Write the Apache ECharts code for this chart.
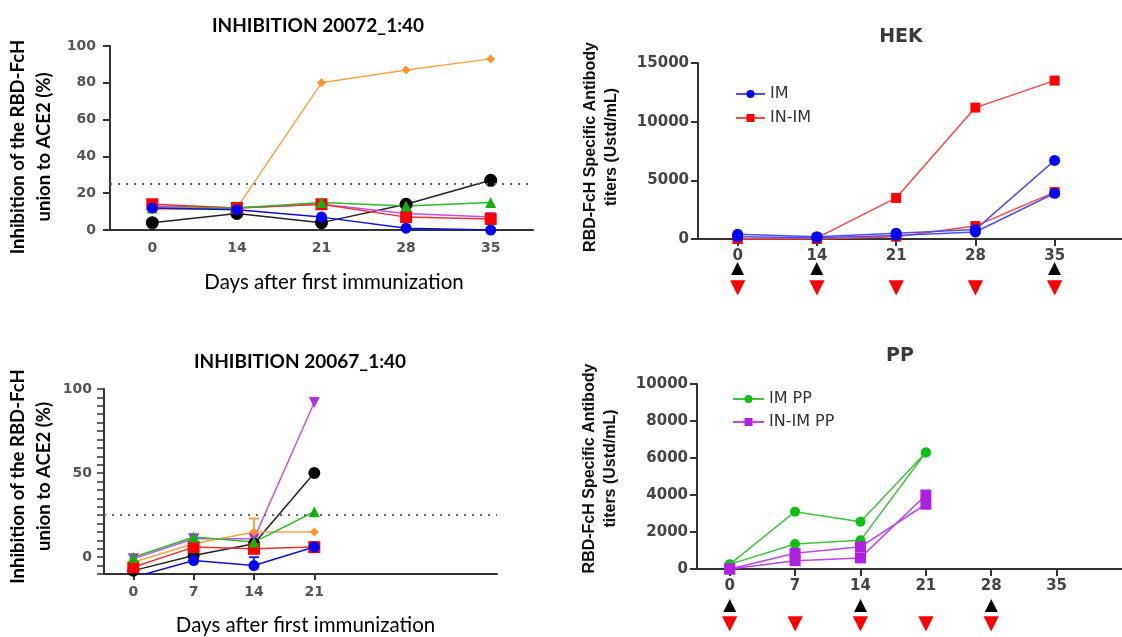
<!DOCTYPE html>
<html><head><meta charset="utf-8">
<script src="https://cdn.jsdelivr.net/npm/echarts@6/dist/echarts.min.js"></script>
<style>html,body{margin:0;padding:0;background:#fff}#c{width:1122px;height:637px}</style>
</head><body><div id="c"></div>
<script>
// ---------- Panel A: INHIBITION 20072_1:40 ----------
const daysA = ['0', '14', '21', '28', '35'];
const inhA_orange = [11, 12, 80, 87, 93];
const inhA_black  = [4, 9, 4, 14, 27];
const inhA_purple = [13, 12, 14, 9, 7];
const inhA_red    = [14, 12, 14, 7, 6];
const inhA_green  = [12, 12, 15, 13, 15];
const inhA_blue   = [12, 11, 7, 1, 0];

// ---------- Panel B: INHIBITION 20067_1:40 ----------
const daysB = [0, 7, 14, 21];
const inhB_purple = [-1, 11, 11, 92];
const inhB_black  = [-8, 1, 8, 50];
const inhB_green  = [0, 12, 9, 27];
const inhB_orange = [-3, 8, 15, 15];
const inhB_red    = [-6, 6, 5, 6];
const inhB_blue   = [-12, -2, -5, 6];
const errB_orange = [14, 15, 23];   // day, mean, upper
const errB_blue   = [14, -5, 0];
const threshold = 25;
const ticksB = [0, 50, 100];

// ---------- Panel C: HEK ----------
const daysHEK = ['0', '14', '21', '28', '35'];
const hek_IM_1   = [400, 200, 500, 800, 6700];
const hek_IM_2   = [200, 100, 300, 600, 3900];
const hek_INIM_1 = [0, 100, 3500, 11200, 13500];
const hek_INIM_2 = [0, 0, 200, 1100, 4000];
const hekPrime  = ['0', '14', '35'];
const hekSample = ['0', '14', '21', '28', '35'];

// ---------- Panel D: PP ----------
const daysPP = ['0', '7', '14', '21', '28', '35'];
const pp_IM_1   = [250, 3100, 2550, 6300];
const pp_IM_2   = [250, 1350, 1550, 6300];
const pp_INIM_1 = [0, 850, 1200, 3500];
const pp_INIM_2 = [0, 450, 600, 4000];
const ppPrime  = ['0', '14', '28'];
const ppSample = ['0', '7', '14', '21', '28'];

const chart = echarts.init(document.getElementById('c'), null, {renderer: 'canvas'});

const AX = '#333';
const plain = v => String(v);
const leftTick = {fontFamily: 'DejaVu Sans', fontWeight: 'bold', fontSize: 14, color: '#555', formatter: plain};
const rightTick = {fontFamily: 'DejaVu Sans', fontWeight: 'bold', fontSize: 15, color: '#444', formatter: plain};
const leftName = {fontFamily: 'Lato', fontWeight: 'bold', fontSize: 18.5, color: '#000', lineHeight: 26};
const rightName = {fontFamily: 'Liberation Sans', fontWeight: 'bold', fontSize: 16, color: '#111', lineHeight: 21};
const xName = {fontFamily: 'Lato', fontSize: 20.5, color: '#000'};

function pairs(xs, ys) { return ys.map((v, i) => [xs[i], v]); }
function idx(ys) { return ys.map((v, i) => [i, v]); }

function lineS(opts) {
  return Object.assign({
    type: 'line', symbolSize: 10, lineStyle: {width: 1.5}, z: 3, animation: false
  }, opts);
}
function dotLine() {
  return {silent: true, symbol: 'none', label: {show: false},
    lineStyle: {type: [2, 6], color: '#666', width: 2}, data: [{yAxis: threshold}]};
}
function errBar(color, e, xi, yi) {
  return {
    type: 'custom', xAxisIndex: xi, yAxisIndex: yi, data: [e], z: 2, animation: false,
    renderItem: (p, api) => {
      const a = api.coord([api.value(0), api.value(1)]);
      const b = api.coord([api.value(0), api.value(2)]);
      return {type: 'group', children: [
        {type: 'line', shape: {x1: a[0], y1: a[1], x2: b[0], y2: b[1]}, style: {stroke: color, lineWidth: 2}},
        {type: 'line', shape: {x1: b[0] - 5, y1: b[1], x2: b[0] + 5, y2: b[1]}, style: {stroke: color, lineWidth: 2}}
      ]};
    }
  };
}
function arrowLabel(labels, prime, sample, st) {
  return {
    customValues: labels.map((d, i) => i),
    margin: 10,
    formatter: v => {
      const d = labels[v];
      return '{n|' + d + '}\n' + (prime.includes(d) ? '{u|▲}' : '{eu| }') + '\n' +
             (sample.includes(d) ? '{d|▼}' : '{ed| }');
    },
    rich: {
      n: {fontFamily: 'DejaVu Sans', fontWeight: 'bold', fontSize: 15, color: '#444', lineHeight: 14},
      u: {color: '#000', fontSize: 17, lineHeight: st.u, fontFamily: 'DejaVu Sans'},
      eu: {fontSize: 14, lineHeight: st.u},
      d: {color: '#ff0000', fontSize: 20, lineHeight: st.d, fontFamily: 'DejaVu Sans'},
      ed: {fontSize: 14, lineHeight: st.d}
    }
  };
}

const option = {
  backgroundColor: '#fff',
  animation: false,
  title: [
    {text: 'INHIBITION 20072_1:40', left: 313, top: 11, textAlign: 'center',
     textStyle: {fontFamily: 'Lato', fontWeight: 'bold', fontSize: 19, color: '#000'}},
    {text: 'INHIBITION 20067_1:40', left: 295, top: 347, textAlign: 'center',
     textStyle: {fontFamily: 'Lato', fontWeight: 'bold', fontSize: 19, color: '#000'}},
    {text: 'HEK', left: 896, top: 23, textAlign: 'center',
     textStyle: {fontFamily: 'DejaVu Sans', fontWeight: 'bold', fontSize: 19, color: '#3a3a3a'}},
    {text: 'PP', left: 895, top: 342, textAlign: 'center',
     textStyle: {fontFamily: 'DejaVu Sans', fontWeight: 'bold', fontSize: 19, color: '#3a3a3a'}}
  ],
  legend: [
    {data: ['IM', 'IN-IM'], orient: 'vertical', left: 730, top: 81, itemWidth: 29, itemHeight: 10, itemGap: 8,
     textStyle: {fontFamily: 'DejaVu Sans', fontSize: 16, color: '#333'}},
    {data: ['IM PP', 'IN-IM PP'], orient: 'vertical', left: 727, top: 386, itemWidth: 31, itemHeight: 10, itemGap: 7,
     textStyle: {fontFamily: 'DejaVu Sans', fontSize: 16, color: '#333'}}
  ],
  grid: [
    {left: 110, top: 46, width: 423, height: 184},
    {left: 104, top: 389, width: 393, height: 185},
    {left: 698, top: 63, width: 424, height: 176},
    {left: 697, top: 384, width: 425, height: 185}
  ],
  xAxis: [
    {gridIndex: 0, type: 'category', data: daysA, boundaryGap: true,
     name: 'Days after first immunization', nameLocation: 'middle', nameGap: 42,
     nameTextStyle: Object.assign({padding: [0, 0, 0, 25]}, xName),
     axisLine: {onZero: false, lineStyle: {color: AX, width: 2}},
     axisTick: {alignWithLabel: true, length: 6, lineStyle: {color: AX, width: 2}},
     axisLabel: Object.assign({margin: 11}, leftTick)},
    {gridIndex: 1, type: 'value', min: -3.4, max: 42.2,
     name: 'Days after first immunization', nameLocation: 'middle', nameGap: 41,
     nameTextStyle: Object.assign({padding: [0, 0, 0, 10]}, xName),
     splitLine: {show: false},
     axisLine: {onZero: false, lineStyle: {color: AX, width: 2}},
     axisTick: {customValues: daysB, length: 6, lineStyle: {color: AX, width: 2}},
     axisLabel: Object.assign({customValues: daysB, margin: 11}, leftTick)},
    {gridIndex: 2, type: 'value', min: -0.5, max: 4.85, splitLine: {show: false},
     axisLine: {onZero: false, lineStyle: {color: AX, width: 2}},
     axisTick: {customValues: daysHEK.map((d, i) => i), length: 7, lineStyle: {color: AX, width: 2}},
     axisLabel: arrowLabel(daysHEK, hekPrime, hekSample, {u: 12, d: 26})},
    {gridIndex: 3, type: 'value', min: -0.5, max: 6.0, splitLine: {show: false},
     axisLine: {onZero: false, lineStyle: {color: AX, width: 2}},
     axisTick: {customValues: daysPP.map((d, i) => i), length: 7, lineStyle: {color: AX, width: 2}},
     axisLabel: arrowLabel(daysPP, ppPrime, ppSample, {u: 26, d: 10})}
  ],
  yAxis: [
    {gridIndex: 0, type: 'value', min: 0, max: 100, interval: 20, splitLine: {show: false},
     name: 'Inhibition of the RBD-FcH\nunion to ACE2 (%)', nameLocation: 'middle', nameGap: 53, nameRotate: 90,
     nameTextStyle: Object.assign({padding: [0, 18, 0, 0]}, leftName),
     axisLine: {show: true, onZero: false, lineStyle: {color: AX, width: 2}},
     axisTick: {show: true, length: 7, lineStyle: {color: AX, width: 2}},
     axisLabel: Object.assign({margin: 14}, leftTick)},
    {gridIndex: 1, type: 'value', min: -10, max: 100, interval: 5, splitLine: {show: false},
     name: 'Inhibition of the RBD-FcH\nunion to ACE2 (%)', nameLocation: 'middle', nameGap: 47, nameRotate: 90,
     nameTextStyle: Object.assign({padding: [0, 0, 0, 10]}, leftName),
     axisLine: {show: true, onZero: false, lineStyle: {color: AX, width: 2}},
     axisTick: {show: true, length: 7, lineStyle: {color: AX, width: 1.5}},
     axisLabel: Object.assign({}, leftTick, {margin: 12, showMinLabel: true, showMaxLabel: true,
       formatter: v => (ticksB.indexOf(v) >= 0 ? String(v) : '')})},
    {gridIndex: 2, type: 'value', min: 0, max: 15000, interval: 5000, splitLine: {show: false},
     name: 'RBD-FcH Specific Antibody\ntiters (Ustd/mL)', nameLocation: 'middle', nameGap: 76, nameRotate: 90,
     nameTextStyle: Object.assign({padding: [0, 0, 0, 8]}, rightName),
     axisLine: {show: true, onZero: false, lineStyle: {color: AX, width: 2}},
     axisTick: {show: true, length: 7, lineStyle: {color: AX, width: 2}},
     axisLabel: Object.assign({margin: 9}, rightTick)},
    {gridIndex: 3, type: 'value', min: 0, max: 10000, interval: 2000, splitLine: {show: false},
     name: 'RBD-FcH Specific Antibody\ntiters (Ustd/mL)', nameLocation: 'middle', nameGap: 76, nameRotate: 90,
     nameTextStyle: Object.assign({padding: [0, 0, 0, 16]}, rightName),
     axisLine: {show: true, onZero: false, lineStyle: {color: AX, width: 2}},
     axisTick: {show: true, length: 7, lineStyle: {color: AX, width: 2}},
     axisLabel: Object.assign({margin: 9}, rightTick)}
  ],
  series: [
    // Panel A
    lineS({xAxisIndex: 0, yAxisIndex: 0, data: inhA_orange, symbol: 'diamond', symbolSize: 9,
      itemStyle: {color: '#ff9428'}, lineStyle: {color: '#f7a448', width: 1.5}, markLine: dotLine()}),
    lineS({xAxisIndex: 0, yAxisIndex: 0, data: inhA_black, symbol: 'circle', symbolSize: 13,
      itemStyle: {color: '#000'}, lineStyle: {color: '#222', width: 1.5}}),
    lineS({xAxisIndex: 0, yAxisIndex: 0, data: inhA_purple, symbol: 'rect', symbolSize: 10,
      itemStyle: {color: '#b030e0'}, lineStyle: {color: '#c050e8', width: 1.5}}),
    lineS({xAxisIndex: 0, yAxisIndex: 0, data: inhA_red, symbol: 'rect', symbolSize: 12,
      itemStyle: {color: '#ff0000'}, lineStyle: {color: '#f03030', width: 1.5}}),
    lineS({xAxisIndex: 0, yAxisIndex: 0, data: inhA_green, symbol: 'triangle', symbolSize: 11,
      itemStyle: {color: '#14b014'}, lineStyle: {color: '#30b830', width: 1.5}}),
    lineS({xAxisIndex: 0, yAxisIndex: 0, data: inhA_blue, symbol: 'circle', symbolSize: 11,
      itemStyle: {color: '#0000ff'}, lineStyle: {color: '#1010d0', width: 1.5}}),
    // Panel B
    errBar('#f7a448', errB_orange, 1, 1),
    errBar('#2020ff', errB_blue, 1, 1),
    lineS({xAxisIndex: 1, yAxisIndex: 1, data: pairs(daysB, inhB_purple), symbol: 'triangle', symbolRotate: 180, symbolSize: 11,
      itemStyle: {color: '#b030e0'}, lineStyle: {color: '#c050e8', width: 1.5}, markLine: dotLine()}),
    lineS({xAxisIndex: 1, yAxisIndex: 1, data: pairs(daysB, inhB_black), symbol: 'circle', symbolSize: 12,
      itemStyle: {color: '#000'}, lineStyle: {color: '#222', width: 1.5}}),
    lineS({xAxisIndex: 1, yAxisIndex: 1, data: pairs(daysB, inhB_orange), symbol: 'diamond', symbolSize: 9,
      itemStyle: {color: '#ff9428'}, lineStyle: {color: '#f7a448', width: 1.5}}),
    lineS({xAxisIndex: 1, yAxisIndex: 1, data: pairs(daysB, inhB_red), symbol: 'rect', symbolSize: 12,
      itemStyle: {color: '#ff0000'}, lineStyle: {color: '#f03030', width: 1.5}}),
    lineS({xAxisIndex: 1, yAxisIndex: 1, data: pairs(daysB, inhB_green), symbol: 'triangle', symbolSize: 11,
      itemStyle: {color: '#14b014'}, lineStyle: {color: '#30b830', width: 1.5}}),
    lineS({xAxisIndex: 1, yAxisIndex: 1, data: pairs(daysB, inhB_blue), symbol: 'circle', symbolSize: 11,
      itemStyle: {color: '#0000ff'}, lineStyle: {color: '#1010d0', width: 1.5}}),
    // Panel C: HEK
    lineS({name: 'IN-IM', xAxisIndex: 2, yAxisIndex: 2, data: idx(hek_INIM_1), symbol: 'rect', symbolSize: 10,
      itemStyle: {color: '#ff0000'}, lineStyle: {color: '#f04848', width: 1.5}}),
    lineS({name: 'IN-IM', xAxisIndex: 2, yAxisIndex: 2, data: idx(hek_INIM_2), symbol: 'rect', symbolSize: 10,
      itemStyle: {color: '#ff0000'}, lineStyle: {color: '#f04848', width: 1.5}}),
    lineS({name: 'IM', xAxisIndex: 2, yAxisIndex: 2, data: idx(hek_IM_1), symbol: 'circle', symbolSize: 11,
      itemStyle: {color: '#0000ff'}, lineStyle: {color: '#5050f0', width: 1.5}}),
    lineS({name: 'IM', xAxisIndex: 2, yAxisIndex: 2, data: idx(hek_IM_2), symbol: 'circle', symbolSize: 11,
      itemStyle: {color: '#0000ff'}, lineStyle: {color: '#5050f0', width: 1.5}}),
    // Panel D: PP
    lineS({name: 'IM PP', xAxisIndex: 3, yAxisIndex: 3, data: idx(pp_IM_1), symbol: 'circle', symbolSize: 10,
      itemStyle: {color: '#10c010'}, lineStyle: {color: '#40c040', width: 1.5}}),
    lineS({name: 'IM PP', xAxisIndex: 3, yAxisIndex: 3, data: idx(pp_IM_2), symbol: 'circle', symbolSize: 10,
      itemStyle: {color: '#10c010'}, lineStyle: {color: '#40c040', width: 1.5}}),
    lineS({name: 'IN-IM PP', xAxisIndex: 3, yAxisIndex: 3, data: idx(pp_INIM_1), symbol: 'rect', symbolSize: 11,
      itemStyle: {color: '#b020e0'}, lineStyle: {color: '#b848e8', width: 1.5}}),
    lineS({name: 'IN-IM PP', xAxisIndex: 3, yAxisIndex: 3, data: idx(pp_INIM_2), symbol: 'rect', symbolSize: 11,
      itemStyle: {color: '#b020e0'}, lineStyle: {color: '#b848e8', width: 1.5}})
  ]
};
chart.setOption(option);
</script>
</body></html>
